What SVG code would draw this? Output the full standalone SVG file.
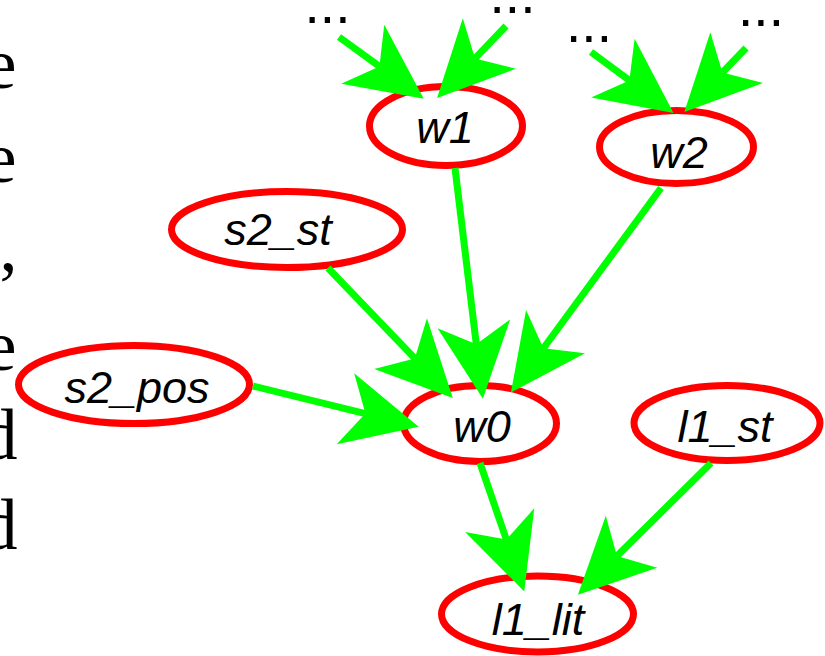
<svg xmlns="http://www.w3.org/2000/svg" width="825" height="656" viewBox="0 0 825 656">
<style>
.node ellipse{fill:#ffffff;stroke:#ff0000;stroke-width:7}
.node text{font-family:"Liberation Sans",Arial,sans-serif;font-style:italic;font-size:45px;fill:#000000;text-anchor:middle}
.dots{font-family:"Liberation Sans",Arial,sans-serif;font-size:55px;fill:#000000;text-anchor:middle}
.side{font-family:"Liberation Serif","Times New Roman",serif;font-size:72px;fill:#000000;text-anchor:end}
#edges path{fill:none;stroke:#00ff00;stroke-width:7}
</style>
<defs>
<marker id="vee" markerUnits="userSpaceOnUse" orient="auto" refX="0" refY="0" markerWidth="80" markerHeight="80" viewBox="-20 -34 70 68" overflow="visible">
<path d="M48,0 L-18,-32 L0,0 L-18,32 Z" fill="#00ff00"/>
</marker>
</defs>
<rect width="825" height="656" fill="#ffffff"/>
<g id="side-text">
<text class="side" x="16.5" y="88">e</text>
<text class="side" x="16.5" y="182">e</text>
<text class="side" x="17.5" y="270">,</text>
<text class="side" x="16.5" y="370">e</text>
<text class="side" x="17.5" y="459">d</text>
<text class="side" x="17.5" y="549">d</text>
</g>
<g id="labels">
<text class="dots" x="327.5" y="23">...</text>
<text class="dots" x="512.5" y="13">...</text>
<text class="dots" x="589" y="42">...</text>
<text class="dots" x="761" y="26">...</text>
</g>
<g id="w1" class="node"><ellipse cx="446" cy="126" rx="76.5" ry="39.5"/><text x="445" y="143">w1</text></g>
<g id="w2" class="node"><ellipse cx="676.5" cy="147" rx="77" ry="36.5"/><text x="679" y="168">w2</text></g>
<g id="s2_st" class="node"><ellipse cx="287" cy="229.5" rx="115.5" ry="38"/><text x="278" y="245">s2_st</text></g>
<g id="s2_pos" class="node"><ellipse cx="134" cy="384.5" rx="115.5" ry="39"/><text x="137" y="403">s2_pos</text></g>
<g id="w0" class="node"><ellipse cx="480" cy="423.5" rx="76.5" ry="38"/><text x="482" y="442">w0</text></g>
<g id="l1_st" class="node"><ellipse cx="727" cy="423" rx="93" ry="37.5"/><text x="725" y="442">l1_st</text></g>
<g id="l1_lit" class="node"><ellipse cx="537.5" cy="614" rx="96" ry="38"/><text x="538" y="635">l1_lit</text></g>
<g id="edges">
<path d="M339,37 L379.4,66.4" marker-end="url(#vee)"/>
<path d="M506,26 L475,58.4" marker-end="url(#vee)"/>
<path d="M591,52 L629.4,80.4" marker-end="url(#vee)"/>
<path d="M746,48 L722.4,72.5" marker-end="url(#vee)"/>
<path d="M455,168 L476.3,344.3" marker-end="url(#vee)"/>
<path d="M661,188 L543.4,348.3" marker-end="url(#vee)"/>
<path d="M328,268 L414.8,358.4" marker-end="url(#vee)"/>
<path d="M253,386 L365.4,413.6" marker-end="url(#vee)"/>
<path d="M480,463 L506.4,539.6" marker-end="url(#vee)"/>
<path d="M711,463 L616.9,556.1" marker-end="url(#vee)"/>
</g>
</svg>
